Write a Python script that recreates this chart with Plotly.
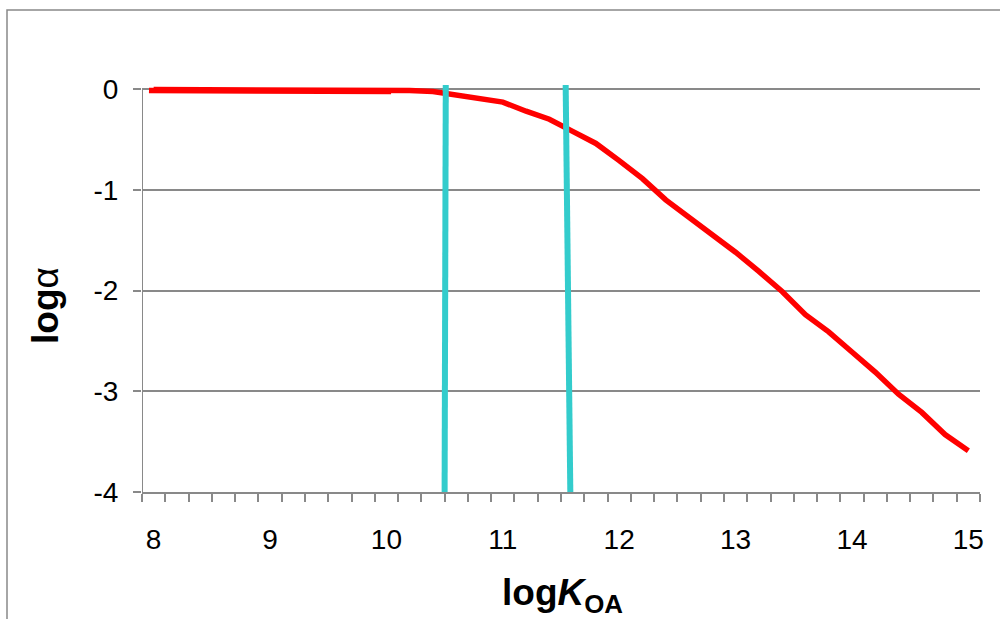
import plotly.graph_objects as go

# ---- data ----
log_koa = [8.0, 8.2, 8.4, 8.6, 8.8, 9.0, 9.2, 9.4, 9.6, 9.8,
           10.0, 10.2, 10.4, 10.6, 10.8, 11.0, 11.2, 11.4, 11.6, 11.8,
           12.0, 12.2, 12.4, 12.6, 12.8, 13.0, 13.2, 13.4, 13.6, 13.8,
           14.0, 14.2, 14.4, 14.6, 14.8, 15.0]
log_alpha = [-0.005, -0.005, -0.005, -0.005, -0.005, -0.005, -0.005, -0.006, -0.007, -0.007,
             -0.008, -0.015, -0.025, -0.06, -0.10, -0.13, -0.22, -0.30, -0.42, -0.54,
             -0.71, -0.89, -1.10, -1.27, -1.45, -1.62, -1.81, -2.01, -2.24, -2.41,
             -2.61, -2.81, -3.03, -3.21, -3.43, -3.59]

# short overlapping red segment at the start
seg_x = [7.96, 10.04]
seg_y = [-0.015, -0.025]

# two cyan marker lines
cyan1_x = [10.51, 10.50]
cyan1_y = [0.04, -4.0]
cyan2_x = [11.54, 11.58]
cyan2_y = [0.04, -4.0]

x_labels = [8, 9, 10, 11, 12, 13, 14, 15]
y_ticks = [0, -1, -2, -3, -4]
y_ticktext = ["0", "-1", "-2", "-3", "-4"]
x_min, x_max = 7.9, 15.1
x_minor = [round(x_min + 0.2 * k, 2) for k in range(37)]

RED = "#FF0000"
CYAN = "#33CCCC"
GRAY = "#898989"
FONT = "Liberation Sans, Arial, sans-serif"

fig = go.Figure()
fig.add_trace(go.Scatter(x=seg_x, y=seg_y, mode="lines",
                         line=dict(color=RED, width=5.5), hoverinfo="skip"))
fig.add_trace(go.Scatter(x=log_koa, y=log_alpha, mode="lines",
                         line=dict(color=RED, width=5.5)))
fig.add_trace(go.Scatter(x=cyan1_x, y=cyan1_y, mode="lines",
                         line=dict(color=CYAN, width=6)))
fig.add_trace(go.Scatter(x=cyan2_x, y=cyan2_y, mode="lines",
                         line=dict(color=CYAN, width=6)))

fig.update_layout(
    width=1000, height=619,
    margin=dict(l=142, r=20, t=83, b=127),
    paper_bgcolor="white", plot_bgcolor="white",
    showlegend=False,
    font=dict(family=FONT, size=28, color="black"),
    xaxis=dict(
        range=[x_min, x_max], tickmode="array", tickvals=x_labels,
        ticktext=[str(v) for v in x_labels], ticks="", showgrid=False,
        zeroline=False, showline=True, linecolor=GRAY, linewidth=2,
        ticklabelstandoff=21,
        tickfont=dict(family=FONT, size=28, color="black"),
        minor=dict(tickmode="array", tickvals=x_minor, ticks="outside",
                   ticklen=8, tickwidth=1.5, tickcolor=GRAY, showgrid=False),
    ),
    yaxis=dict(
        range=[-4, 0.06], tickmode="array", tickvals=y_ticks, ticktext=y_ticktext,
        ticks="outside", ticklen=8, tickwidth=1.5, tickcolor=GRAY,
        showgrid=True, gridcolor=GRAY, gridwidth=1.5,
        zeroline=False, showline=False, ticklabelstandoff=9,
        tickfont=dict(family=FONT, size=28, color="black"),
    ),
    shapes=[
        # y axis line from -4 to 0
        dict(type="line", xref="x", yref="y", x0=x_min, x1=x_min, y0=-4, y1=0,
             line=dict(color=GRAY, width=2), layer="below"),
        # outer chart frame (extends past right and bottom edges)
        dict(type="rect", xref="paper", yref="paper",
             x0=(7 - 142) / 838, x1=(1010 - 142) / 838,
             y0=(492 - 630) / 409, y1=(492 - 10) / 409,
             line=dict(color=GRAY, width=1.5), fillcolor="rgba(0,0,0,0)", layer="below"),
    ],
    annotations=[
        dict(text="<b>log</b>α", xref="paper", yref="paper",
             x=(45 - 142) / 838, y=(492 - 306) / 409, xanchor="center", yanchor="middle",
             textangle=-90, showarrow=False, font=dict(family=FONT, size=37, color="black")),
        dict(text="<b>log<i>K</i><sub>OA</sub></b>", xref="paper", yref="paper",
             x=(562 - 142) / 838, y=(492 - 595) / 409, xanchor="center", yanchor="middle",
             showarrow=False, font=dict(family=FONT, size=37, color="black")),
    ],
)

fig.write_html("out.html")
